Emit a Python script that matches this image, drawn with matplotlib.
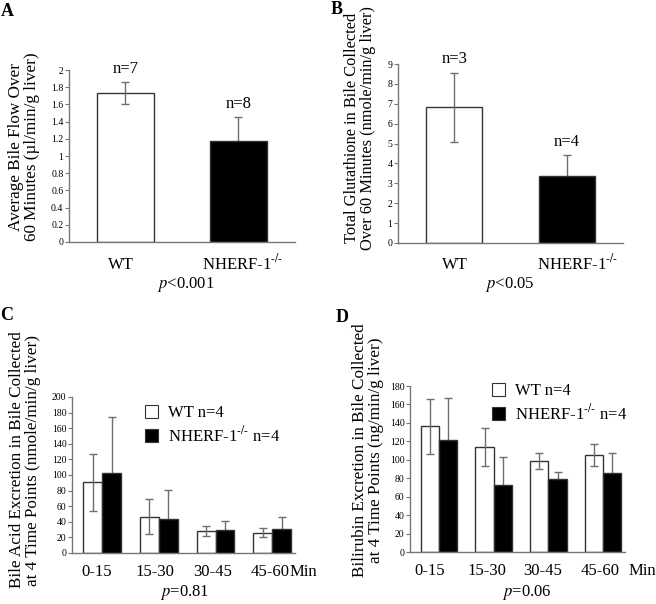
import numpy as np
import matplotlib
matplotlib.use("Agg")
import matplotlib.pyplot as plt
from matplotlib.patches import Patch

plt.rcParams['font.family'] = ['Liberation Serif', 'DejaVu Serif']
plt.rcParams['mathtext.fontset'] = 'stix'

# Panel A - bile flow
groups = ['WT', r'NHERF-1$^{\text{-/-}}$']
flow_mean = [1.73, 1.17]
flow_err = [0.13, 0.28]
flow_n = [7, 8]

# Panel B - glutathione
gsh_mean = [6.82, 3.38]
gsh_err = [1.74, 1.02]
gsh_n = [3, 4]

# Panel C / D - time points
times = ['0-15', '15-30', '30-45', '45-60']
bile_wt = [90.5, 46.7, 28.3, 26.2]
bile_wt_err = [37, 22.5, 6, 5.5]
bile_ko = [102, 44.2, 30, 30.8]
bile_ko_err = [73, 37, 11, 15.4]

bili_wt = [136.3, 113.9, 98.7, 105.6]
bili_wt_err = [30, 20.6, 8.2, 11.9]
bili_ko = [121.1, 72.3, 79.2, 85.7]
bili_ko_err = [46, 30.7, 7.6, 22]

W, H = 656, 604
EDGE = '#333333'
ERR = '#6e6e6e'
AX = '#777777'

fig = plt.figure(figsize=(W / 100, H / 100), dpi=100)


def px_axes(x0, x1, y_top, y_bot):
    return fig.add_axes([x0 / W, 1 - y_bot / H, (x1 - x0) / W, (y_bot - y_top) / H])


def fx(x):
    return x / W


def fy(y):
    return 1 - y / H


def style(ax, ymax, step, fmt):
    for s in ['top', 'right']:
        ax.spines[s].set_visible(False)
    for s in ['left', 'bottom']:
        ax.spines[s].set_color(AX)
        ax.spines[s].set_linewidth(1.0)
    ax.set_ylim(0, ymax)
    ticks = np.arange(0, ymax + step / 2, step)
    ax.set_yticks(ticks)
    ax.set_yticklabels([fmt(t) for t in ticks])
    ax.tick_params(axis='y', direction='out', length=3, width=0.8, color=AX,
                   labelsize=7, pad=1)
    ax.set_xticks([])


def two_bar(ax, means, errs):
    x = np.arange(2)
    ax.bar(x[0], means[0], 0.5, color='white', edgecolor=EDGE, linewidth=1, zorder=2)
    ax.errorbar(x[0], means[0], yerr=errs[0], color=ERR, capsize=3,
                elinewidth=1, capthick=1, zorder=3)
    # knockout error bar sits behind the black bar so only the upper arm shows
    ax.bar(x[1], means[1], 0.5, color='black', edgecolor=EDGE, linewidth=1, zorder=2)
    ax.errorbar(x[1], means[1], yerr=errs[1], color=ERR, capsize=3,
                elinewidth=1, capthick=1, zorder=1)
    ax.set_xlim(-0.5, 1.5)


def grouped(ax, wt, wt_err, ko, ko_err):
    x = np.arange(len(times))
    w = 0.333
    ax.bar(x - w / 2, wt, w, color='white', edgecolor=EDGE, linewidth=1, zorder=2)
    ax.errorbar(x - w / 2, wt, yerr=wt_err, fmt='none', ecolor=ERR, capsize=3,
                elinewidth=1, capthick=1, zorder=3)
    ax.bar(x + w / 2, ko, w, color='black', edgecolor=EDGE, linewidth=1, zorder=2)
    ax.errorbar(x + w / 2, ko, yerr=ko_err, fmt='none', ecolor=ERR, capsize=3,
                elinewidth=1, capthick=1, zorder=1)
    ax.set_xlim(-0.53, 3.40)


# ---- Panel A
axA = px_axes(69, 295, 70, 242)
two_bar(axA, flow_mean, flow_err)
style(axA, 2, 0.2, lambda t: ('%g' % round(t, 1)))
for i, (m, e, n) in enumerate(zip(flow_mean, flow_err, flow_n)):
    axA.text(i, m + e + 0.06, 'n=%d' % n, ha='center', va='bottom', fontsize=12)

# ---- Panel B
axB = px_axes(398, 623, 64, 243)
two_bar(axB, gsh_mean, gsh_err)
style(axB, 9, 1, lambda t: '%d' % t)
for i, (m, e, n) in enumerate(zip(gsh_mean, gsh_err, gsh_n)):
    axB.text(i, m + e + 0.3, 'n=%d' % n, ha='center', va='bottom', fontsize=12)

# ---- Panel C
axC = px_axes(72, 295, 397, 553)
grouped(axC, bile_wt, bile_wt_err, bile_ko, bile_ko_err)
style(axC, 200, 20, lambda t: '%d' % t)

# ---- Panel D
axD = px_axes(410, 625, 386, 552)
grouped(axD, bili_wt, bili_wt_err, bili_ko, bili_ko_err)
style(axD, 180, 20, lambda t: '%d' % t)

# x category labels (figure coords)
fs = 12
fig.text(fx(121), fy(265), groups[0], ha='center', va='center', fontsize=fs)
fig.text(fx(243), fy(263), groups[1], ha='center', va='center', fontsize=fs)
fig.text(fx(186), fy(285), '$p$<0.001', ha='center', va='center', fontsize=fs)

fig.text(fx(455), fy(265), groups[0], ha='center', va='center', fontsize=fs)
fig.text(fx(578), fy(263), groups[1], ha='center', va='center', fontsize=fs)
fig.text(fx(510), fy(285), '$p$<0.05', ha='center', va='center', fontsize=fs)

c_pos = [97, 155, 213, 270]
for px, t in zip(c_pos, times):
    fig.text(fx(px), fy(572), t, ha='center', va='center', fontsize=fs)
fig.text(fx(303), fy(572), 'Min', ha='center', va='center', fontsize=fs)
fig.text(fx(185), fy(593), '$p$=0.81', ha='center', va='center', fontsize=fs)

d_pos = [430, 487, 543, 600]
for px, t in zip(d_pos, times):
    fig.text(fx(px), fy(571), t, ha='center', va='center', fontsize=fs)
fig.text(fx(642), fy(571), 'Min', ha='center', va='center', fontsize=fs)
fig.text(fx(527), fy(593), '$p$=0.06', ha='center', va='center', fontsize=fs)

# y labels
yfs = 12.3
fig.text(fx(24), fy(147), 'Average Bile Flow Over\n60 Minutes (µl/min/g liver)',
         rotation=90, ha='center', va='center', fontsize=yfs, linespacing=1.0)
fig.text(fx(360), fy(128), 'Total Glutathione in Bile Collected\nOver 60 Minutes (nmole/min/g liver)',
         rotation=90, ha='center', va='center', fontsize=11.8, linespacing=1.0)
fig.text(fx(25), fy(460), 'Bile Acid Excretion in Bile Collected\nat 4 Time Points (nmole/min/g liver)',
         rotation=90, ha='center', va='center', fontsize=yfs, linespacing=1.0)
fig.text(fx(368), fy(450), 'Bilirubin Excretion in Bile Collected\nat 4 Time Points (ng/min/g liver)',
         rotation=90, ha='center', va='center', fontsize=yfs, linespacing=1.0)

# panel letters
for letter, x, y in [('A', 7, 12), ('B', 337, 9), ('C', 7, 315), ('D', 342, 317)]:
    fig.text(fx(x), fy(y), letter, ha='center', va='center', fontsize=13, fontweight='bold')

# legends
handles = [Patch(facecolor='white', edgecolor=EDGE, linewidth=0.8),
           Patch(facecolor='black', edgecolor=EDGE, linewidth=0.8)]
labels = ['WT n=4', r'NHERF-1$^{\text{-/-}}$ n=4']
for ax, x, y in [(axC, 145, 405), (axD, 492, 383)]:
    ax.legend(handles, labels, loc='upper left', bbox_to_anchor=(fx(x), fy(y)),
              bbox_transform=fig.transFigure, frameon=False, fontsize=fs,
              handlelength=0.8, handleheight=0.8, handletextpad=0.6,
              borderpad=0, borderaxespad=0, labelspacing=0.25)

fig.savefig('out.png', dpi=100)
